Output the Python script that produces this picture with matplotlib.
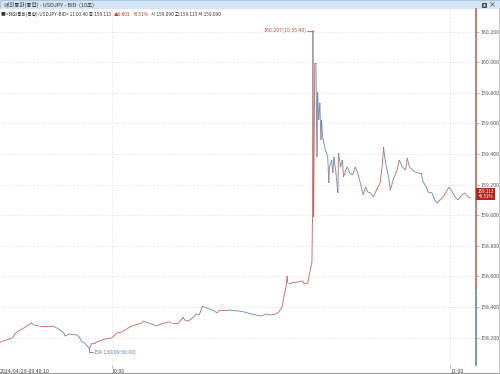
import numpy as np
import matplotlib
matplotlib.use("Agg")
import matplotlib.pyplot as plt
from matplotlib.collections import LineCollection

plt.rcParams['font.family'] = ['Noto Sans CJK KR', 'DejaVu Sans']

# minutes from 10:00, close prices (10-sec chart, sampled)
minutes = [-19.8, -17.6, -17.1, -15.9, -15.0, -14.3, -13.8, -12.9, -10.6, -9.7,
           -8.5, -8.3, -7.6, -6.2, -5.8, -5.3, -4.8, -4.0, -3.5, -3.0,
           -2.3, -1.2, 0.0, 0.9, 1.8, 3.2, 4.1, 5.3, 5.6, 6.5,
           7.1, 7.9, 8.8, 10.1, 10.6, 11.8, 12.7, 12.9, 13.6, 14.5,
           15.0, 15.5, 16.1, 16.4, 17.3, 18.2, 18.7, 19.1, 20.6, 22.4,
           23.5, 24.7, 25.6, 26.5, 27.4, 28.2, 29.1, 29.6, 30.2, 30.5,
           30.9, 31.1, 31.2, 31.8, 33.0, 33.9, 34.1, 34.8, 34.9, 35.3,
           35.5, 35.6, 35.67, 35.8, 36.0, 36.2, 36.4, 36.5, 36.7, 36.9,
           37.1, 37.2, 37.4, 37.6, 37.9, 38.3, 38.5, 38.6, 39.0, 39.2,
           39.4, 39.7, 40.1, 40.2, 40.6, 40.9, 41.1, 41.5, 41.8, 42.2,
           42.7, 43.2, 43.6, 44.1, 44.5, 44.6, 45.0, 45.4, 45.9, 46.4,
           47.1, 47.6, 48.0, 48.2, 48.4, 48.7, 49.1, 49.4, 49.9, 50.6,
           51.0, 51.5, 52.1, 52.4, 52.8, 53.3, 53.8, 54.4, 54.9, 55.2,
           55.8, 56.1, 56.8, 57.3, 57.7, 58.2, 58.8, 59.5, 59.8, 60.4,
           60.9, 61.4, 62.1, 62.6, 63.2, 63.67]
prices = [158.172, 158.198, 158.231, 158.257, 158.277, 158.296, 158.283, 158.277, 158.277, 158.263,
          158.231, 158.211, 158.224, 158.218, 158.205, 158.172, 158.165, 158.130, 158.165, 158.165,
          158.178, 158.192, 158.198, 158.231, 158.237, 158.270, 158.283, 158.296, 158.309, 158.296,
          158.290, 158.277, 158.290, 158.303, 158.296, 158.296, 158.335, 158.316, 158.309, 158.335,
          158.355, 158.348, 158.407, 158.401, 158.388, 158.375, 158.361, 158.381, 158.381, 158.375,
          158.368, 158.355, 158.348, 158.342, 158.355, 158.348, 158.355, 158.368, 158.401, 158.466,
          158.531, 158.603, 158.558, 158.558, 158.564, 158.571, 158.551, 158.558, 158.590, 158.656,
          158.695, 158.989, 160.207, 158.989, 159.995, 159.995, 159.381, 159.806, 159.623, 159.734,
          159.492, 159.623, 159.512, 159.473, 159.427, 159.381, 159.211, 159.316, 159.361, 159.277,
          159.381, 159.296, 159.146, 159.407, 159.316, 159.361, 159.250, 159.296, 159.316, 159.277,
          159.263, 159.316, 159.277, 159.211, 159.146, 159.133, 159.185, 159.152, 159.146, 159.120,
          159.178, 159.211, 159.342, 159.446, 159.381, 159.316, 159.250, 159.165, 159.231, 159.296,
          159.361, 159.316, 159.296, 159.374, 159.316, 159.296, 159.283, 159.277, 159.277, 159.218,
          159.185, 159.152, 159.146, 159.100, 159.080, 159.100, 159.120, 159.165, 159.185, 159.152,
          159.120, 159.100, 159.133, 159.146, 159.120, 159.113]

y_ticks = [158.2, 158.4, 158.6, 158.8, 159.0, 159.2, 159.4, 159.6, 159.8, 160.0, 160.2]
x_ticks = [0, 60]
x_labels = ["10:00", "11:00"]

high_label = "160.207(10:35:40)"
low_label = "158.130(09:56:00)"
last_price = "159.113"
last_change = "+0.51%"
header_parts = [("■<해외통화(통합)-USDJPY-BID> 11:03:40 종:159.113", "#333333"),
                ("▲0.801", "#c0392b"),
                ("+0.51%", "#c0392b"),
                ("시:159.090 고:159.113 저:159.090", "#333333")]

RED = "#c0625a"
BLUE = "#5f86ad"
W, H = 500, 374

fig = plt.figure(figsize=(5, 3.74), dpi=100)
fig.patch.set_facecolor("white")

# title bar
bar = fig.add_axes([0, 1 - 9 / H, 1, 9 / H])
bar.set_xlim(0, W)
bar.set_ylim(0, 9)
bar.axis("off")
bar.add_patch(plt.Rectangle((0, 0), W, 9, facecolor="#d3e5f5", edgecolor="#9fbfdc", lw=0.6))
bar.text(4, 4.5, "해외통화(통합) - USDJPY - BID  (10초)", fontsize=4, va="center", color="#333333")
# window buttons
bar.add_patch(plt.Rectangle((481.5, 2.3), 4, 4, facecolor="none", edgecolor="#333333", lw=0.6))
bar.add_patch(plt.Rectangle((482.8, 3.3), 2.2, 2.2, facecolor="none", edgecolor="#333333", lw=0.4))
bar.text(492, 4.3, "×", fontsize=5, va="center", ha="center", color="#222222")

# main plot
top_px, bot_px, right_px = 9, 365, 476
ax = fig.add_axes([0, 1 - bot_px / H, right_px / W, (bot_px - top_px) / H])
ax.set_xlim(-19.83, 64.6)
ax.set_ylim(158.0216, 160.348)

x = np.array(minutes)
y = np.array(prices)
segs = np.stack([np.column_stack([x[:-1], y[:-1]]), np.column_stack([x[1:], y[1:]])], axis=1)
cols = [RED if b >= a else BLUE for a, b in zip(y[:-1], y[1:])]
ax.add_collection(LineCollection(segs, colors=cols, linewidths=0.7, alpha=0.85))

for v in y_ticks:
    ax.axhline(v, color="#d8d8d8", lw=0.6, ls=(0, (1, 2)), zorder=0)
for t in x_ticks:
    ax.axvline(t, color="#d8d8d8", lw=0.6, ls=(0, (1, 2)), zorder=0)

for s in ["top", "left", "bottom", "right"]:
    ax.spines[s].set_visible(False)
split = 1 - (288 - top_px) / (bot_px - top_px)
ax.plot([1, 1], [0, split], transform=ax.transAxes, color=BLUE, lw=1.2, clip_on=False)
ax.plot([1, 1], [split, 1], transform=ax.transAxes, color=RED, lw=1.2, clip_on=False)
ax.axhline(158.0216, color="#aaaaaa", lw=0.6)

ax.yaxis.tick_right()
ax.set_yticks(y_ticks)
ax.set_yticklabels([f"{v:,.3f}" for v in y_ticks], fontsize=3.8, color="#555555")
ax.tick_params(axis="y", length=2, width=0.4, color="#888888", pad=1.5)
ax.set_xticks(x_ticks)
ax.set_xticklabels(x_labels, fontsize=3.8, color="#444444", ha="left")
ax.tick_params(axis="x", length=2, width=0.4, color="#888888", pad=1)

# start label
ax.text(0, -0.012, "2024/04/29-09:40:10", transform=ax.transAxes, fontsize=3.8,
        color="#444444", va="top", ha="left")

# high / low markers
hi = int(np.argmax(y))
lo = int(np.argmin(y))
ax.plot([x[hi] - 1.0, x[hi]], [y[hi], y[hi]], color=RED, lw=0.6)
ax.text(x[hi] - 1.1, y[hi], high_label, fontsize=3.8, color="#b0524a", ha="right", va="center")
ax.plot([x[lo], x[lo], x[lo] + 0.6], [y[lo], y[lo] - 0.025, y[lo] - 0.025], color=BLUE, lw=0.6)
ax.text(x[lo] + 0.7, y[lo] - 0.025, low_label, fontsize=3.8, color="#6282a6", ha="left", va="center")

# current price tag
tag_y = 1 - (194 - top_px) / (bot_px - top_px)
ax.text(1.003, tag_y, f"{last_price}\n{last_change}", transform=ax.transAxes, fontsize=3.3,
        color="white", ha="left", va="center", linespacing=0.9,
        bbox=dict(boxstyle="square,pad=0.25", facecolor="#b3261e", edgecolor="none"))

# header info line, pieces placed one after another
renderer = fig.canvas.get_renderer()
hx = 1.0
for txt, col in header_parts:
    t = fig.text(hx / W, 1 - 14 / H, txt, fontsize=3.4, va="center", color=col)
    bb = t.get_window_extent(renderer=renderer)
    hx += bb.width + 2.5

# outer frame
frame = fig.add_axes([0, 0, 1, 1], facecolor="none")
frame.set_xlim(0, W)
frame.set_ylim(H, 0)
frame.axis("off")
frame.plot([0, W], [373, 373], color="#999999", lw=0.8)
frame.plot([W - 1, W - 1], [9, 374], color="#bbbbbb", lw=0.6)

fig.savefig("out.png", dpi=100)
